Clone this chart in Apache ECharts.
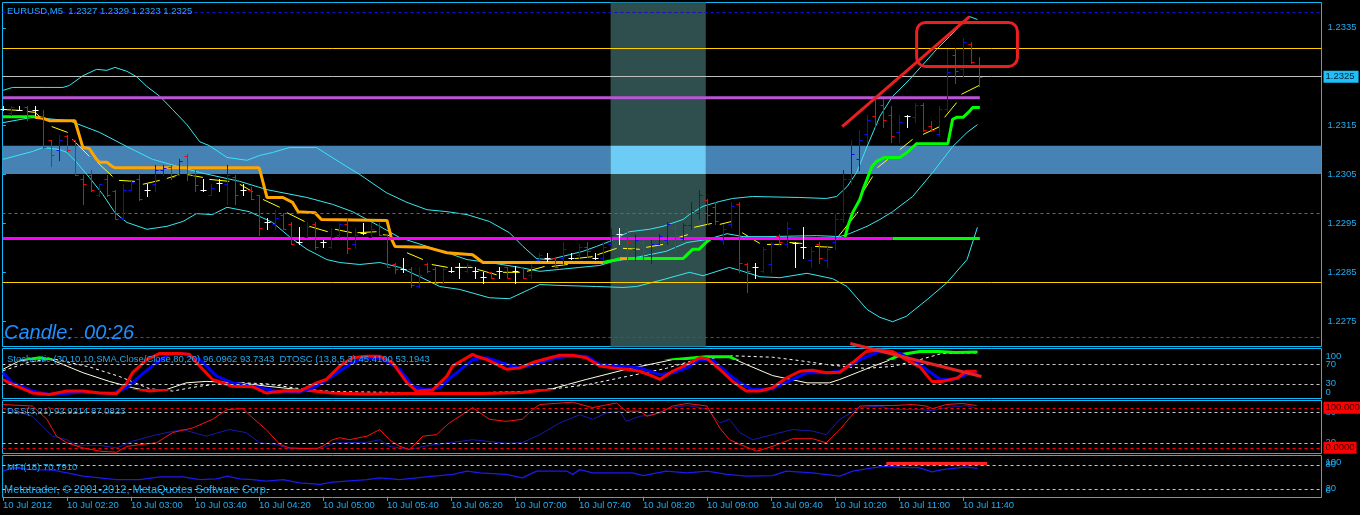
<!DOCTYPE html>
<html><head><meta charset="utf-8">
<script src="https://cdn.jsdelivr.net/npm/echarts@6/dist/echarts.min.js"></script>
<style>html,body{margin:0;padding:0;background:#000;}#c{width:1360px;height:515px;}</style>
</head><body><div id="c"></div>
<script>
// ---------- DATA ----------
const opens = [1.23183,1.23175,1.23181,1.23189,1.23181,1.23167,1.23120,1.23101,1.23128,1.23120,1.23040,1.23050,1.23009,1.23040,1.23017,1.22962,1.23019,1.23040,1.23019,1.23030,1.23060,1.23066,1.23050,1.23087,1.23050,1.23019,1.23009,1.23032,1.23030,1.23044,1.23019,1.23019,1.23009,1.22952,1.22948,1.22968,1.22948,1.22911,1.22923,1.22948,1.22911,1.22901,1.22927,1.22948,1.22907,1.22931,1.22923,1.22946,1.22927,1.22868,1.22856,1.22856,1.22821,1.22866,1.22856,1.22829,1.22852,1.22860,1.22852,1.22852,1.22841,1.22850,1.22852,1.22860,1.22852,1.22860,1.22845,1.22876,1.22880,1.22880,1.22880,1.22880,1.22886,1.22901,1.22880,1.22880,1.22907,1.22929,1.22938,1.22897,1.22909,1.22886,1.22907,1.22917,1.22942,1.22921,1.22946,1.22972,1.22997,1.22983,1.22917,1.22948,1.22989,1.22866,1.22860,1.22852,1.22866,1.22925,1.22907,1.22909,1.22901,1.22876,1.22907,1.22876,1.22913,1.22958,1.23040,1.23081,1.23132,1.23169,1.23193,1.23171,1.23136,1.23169,1.23167,1.23193,1.23150,1.23132,1.23183,1.23295,1.23265,1.23316,1.2327];
const highs = [1.23191,1.23191,1.23191,1.23191,1.23191,1.23181,1.23120,1.23130,1.23130,1.23120,1.23050,1.23060,1.23030,1.23050,1.23019,1.23030,1.23036,1.23050,1.23030,1.23070,1.23070,1.23070,1.23081,1.23091,1.23060,1.23040,1.23030,1.23040,1.23070,1.23050,1.23030,1.23025,1.23009,1.22962,1.22978,1.22972,1.22952,1.22942,1.22952,1.22952,1.22917,1.22940,1.22950,1.22960,1.22940,1.22950,1.22950,1.22950,1.22929,1.22870,1.22880,1.22860,1.22860,1.22870,1.22860,1.22860,1.22860,1.22870,1.22870,1.22860,1.22850,1.22850,1.22860,1.22860,1.22862,1.22860,1.22868,1.22890,1.22890,1.22880,1.22913,1.22890,1.22907,1.22913,1.22890,1.22911,1.22940,1.22940,1.22940,1.22929,1.22917,1.22917,1.22929,1.22952,1.22948,1.22950,1.22993,1.23019,1.22999,1.22993,1.22948,1.22993,1.22993,1.22870,1.22870,1.22901,1.22911,1.22929,1.22952,1.22913,1.22942,1.22901,1.22911,1.22901,1.22970,1.23060,1.23120,1.23140,1.23171,1.23205,1.23205,1.23191,1.23171,1.23171,1.23197,1.23197,1.23160,1.23191,1.23306,1.23308,1.23330,1.23320,1.2329];
const lows = [1.23181,1.23171,1.23181,1.23162,1.23171,1.23105,1.23068,1.23079,1.23099,1.23048,1.22989,1.23017,1.23007,1.23007,1.22958,1.22958,1.23019,1.22997,1.23007,1.23017,1.23050,1.23040,1.23050,1.23038,1.23017,1.23017,1.23009,1.23017,1.22989,1.22989,1.23009,1.22999,1.22927,1.22938,1.22938,1.22938,1.22907,1.22907,1.22923,1.22897,1.22901,1.22899,1.22923,1.22890,1.22899,1.22929,1.22923,1.22927,1.22860,1.22848,1.22850,1.22819,1.22819,1.22850,1.22829,1.22829,1.22850,1.22839,1.22850,1.22839,1.22829,1.22839,1.22839,1.22839,1.22829,1.22839,1.22839,1.22876,1.22874,1.22860,1.22868,1.22878,1.22880,1.22882,1.22878,1.22876,1.22901,1.22907,1.22870,1.22876,1.22876,1.22870,1.22907,1.22907,1.22890,1.22917,1.22938,1.22958,1.22948,1.22948,1.22907,1.22942,1.22850,1.22809,1.22839,1.22850,1.22850,1.22907,1.22901,1.22860,1.22880,1.22860,1.22870,1.22860,1.22897,1.22952,1.23030,1.23060,1.23115,1.23148,1.23148,1.23117,1.23117,1.23148,1.23158,1.23138,1.23138,1.23128,1.23179,1.23238,1.23250,1.23279,1.2323];
const closes = [1.23183,1.23187,1.23181,1.23167,1.23181,1.23107,1.23089,1.23120,1.23101,1.23050,1.23030,1.23019,1.23030,1.23009,1.22960,1.23019,1.23034,1.22999,1.23019,1.23060,1.23064,1.23044,1.23077,1.23050,1.23028,1.23019,1.23023,1.23032,1.23050,1.23009,1.23019,1.22999,1.22940,1.22952,1.22962,1.22938,1.22907,1.22911,1.22942,1.22901,1.22911,1.22923,1.22948,1.22899,1.22927,1.22931,1.22938,1.22927,1.22860,1.22856,1.22856,1.22825,1.22845,1.22852,1.22829,1.22856,1.22852,1.22860,1.22864,1.22852,1.22841,1.22839,1.22852,1.22839,1.22852,1.22839,1.22860,1.22886,1.22880,1.22860,1.22897,1.22880,1.22901,1.22893,1.22880,1.22901,1.22927,1.22929,1.22911,1.22917,1.22893,1.22907,1.22925,1.22948,1.22927,1.22946,1.22976,1.23009,1.22968,1.22954,1.22938,1.22985,1.22870,1.22852,1.22860,1.22897,1.22907,1.22911,1.22940,1.22909,1.22901,1.22893,1.22880,1.22897,1.22958,1.23040,1.23091,1.23120,1.23162,1.23156,1.23162,1.23128,1.23158,1.23169,1.23193,1.23140,1.23140,1.23183,1.23259,1.23261,1.23320,1.23281,1.2325];

const upperBand = [[0,1.23222],[1.2,1.23228],[5.5,1.23228],[7.5,1.23228],[8.3,1.23232],[10,1.23252],[11.7,1.23265],[13,1.23263],[14,1.23269],[15.5,1.23261],[16.7,1.23250],[18,1.23230],[19.6,1.23210],[21.2,1.23183],[23,1.23152],[24.6,1.23117],[25.8,1.23109],[28,1.23085],[30.5,1.23079],[32.1,1.23089],[33.7,1.23095],[35.8,1.23105],[39.2,1.23105],[42.1,1.23075],[44.6,1.23050],[47.9,1.23013],[50.5,1.22993],[53,1.22978],[55.5,1.22974],[58,1.22968],[60.8,1.22954],[63.3,1.22931],[65,1.22903],[66.7,1.22878],[68.3,1.22876],[70.8,1.22886],[72.5,1.22893],[74.2,1.22903],[75.8,1.22913],[78.3,1.22933],[80.8,1.22938],[82.5,1.22944],[85,1.22958],[85.8,1.22968],[87.5,1.22985],[89.6,1.22995],[91.2,1.23001],[93.7,1.23005],[99.6,1.23003],[102.9,1.23001],[104.2,1.23005],[105.5,1.23025],[106.7,1.23054],[108,1.23107],[109.6,1.23169],[111.2,1.23210],[113.3,1.23244],[116.7,1.23306],[118.3,1.23332],[120.8,1.23373],[121.8,1.23367]];
const middleBand = [[0,1.23156],[3.7,1.23167],[8.3,1.23160],[12.1,1.23136],[15.5,1.23107],[18.7,1.23081],[24.6,1.23054],[29.6,1.23036],[33,1.23019],[38,1.23003],[41.2,1.22989],[43.7,1.22974],[47.1,1.22944],[49.6,1.22921],[53,1.22903],[55.5,1.22890],[58,1.22876],[60.8,1.22870],[64.6,1.22860],[67.1,1.22852],[69.6,1.22856],[72.1,1.22860],[74.6,1.22864],[76.2,1.22872],[79.6,1.22882],[82.9,1.22893],[85.5,1.22911],[88,1.22917],[90.5,1.22929],[92.5,1.22923],[95.5,1.22923],[101.7,1.22925],[104.6,1.22923],[105.8,1.22929],[108,1.22944],[109.6,1.22958],[111.2,1.22974],[113.7,1.23005],[116.2,1.23054],[118.7,1.23107],[120.5,1.23136],[121.8,1.23152]];
const lowerBand = [[0,1.23081],[3.7,1.23097],[5,1.23105],[7.1,1.23101],[8,1.23095],[9.2,1.23075],[10.8,1.23044],[12.5,1.23009],[14,1.22972],[15.5,1.22952],[18,1.22938],[20.5,1.22944],[22.5,1.22954],[24.2,1.22970],[26.2,1.22968],[28,1.22983],[30.8,1.22974],[33.7,1.22952],[35.8,1.22923],[38,1.22897],[40.5,1.22876],[42.1,1.22870],[44.6,1.22866],[47.1,1.22870],[49.6,1.22860],[52.1,1.22841],[54.6,1.22821],[57.1,1.22815],[60.8,1.22798],[63.3,1.22796],[65.8,1.22815],[67.1,1.22825],[69.9,1.22823],[74.2,1.22821],[77.5,1.22819],[79.2,1.22821],[82.5,1.22835],[85.8,1.22850],[87.5,1.22843],[90.8,1.22860],[92.5,1.22852],[94.6,1.22841],[97.1,1.22839],[100.5,1.22848],[103.7,1.22837],[105.5,1.22821],[108,1.22774],[109.6,1.22758],[111.2,1.22749],[112.9,1.22760],[115.5,1.22794],[118,1.22829],[120.5,1.22876],[121.8,1.22942]];

const trailGreen1 = [[0,1.23168],[4,1.23168]];
const trailOrange1 = [[4,1.23167],[5,1.23165],[5.8,1.23160],[9,1.23160],[9.2,1.23156],[10,1.23105],[10.8,1.23103],[11.7,1.23081],[12.1,1.23075],[13,1.23075],[13.7,1.23066],[14,1.23064],[32,1.23064],[32.2,1.23054],[33,1.23003],[35,1.23003],[36.2,1.22993],[36.9,1.22974],[39,1.22972],[39.8,1.22958],[48,1.22956],[48.6,1.22917],[49,1.22903],[53,1.22901],[55.5,1.22890],[58.7,1.22886],[60,1.22870],[75,1.22870]];
const trailGreen2 = [[75,1.22870],[76.2,1.22874],[77.1,1.22878]];
const trailOrange2 = [[77.1,1.22878],[78.1,1.22878]];
const trailGreen3 = [[78.1,1.22878],[85,1.22878],[86.2,1.22897],[87,1.22897],[88,1.22913],[88.5,1.22919],[105.2,1.22919],[105.6,1.22944],[106.2,1.22972],[107.1,1.22999],[107.5,1.23019],[108,1.23040],[108.6,1.23066],[109.2,1.23077],[110.2,1.23085],[112.1,1.23085],[113,1.23095],[114.2,1.23113],[118.1,1.23113],[118.7,1.23163],[119.2,1.23167],[120,1.23167],[120.8,1.23179],[121.2,1.23187],[122.1,1.23187]];

const yellowSegs = [[0,1.23183,2.1,1.23181],[3,1.23179,4,1.23177],[4,1.23177,5,1.23163],[6.1,1.23148,8.1,1.23136],[8.7,1.23122,10.8,1.23087],[11.8,1.23075,13.7,1.23046],[14.5,1.23038,16.5,1.23036],[17.5,1.23030,19.6,1.23038],[20.5,1.23042,22.1,1.23050],[23,1.23050,25,1.23044],[25.8,1.23040,28.3,1.23036],[29.6,1.23030,31.2,1.23015],[32.5,1.22999,34.6,1.22983],[35.5,1.22972,37.7,1.22954],[38.3,1.22944,40.6,1.22933],[41.5,1.22938,43.6,1.22931],[44.3,1.22931,46.7,1.22933],[47.5,1.22927,48.3,1.22925],[50.5,1.22890,52.5,1.22876],[53.6,1.22866,55.6,1.22860],[56.5,1.22860,58.7,1.22860],[59.3,1.22856,61.7,1.22845],[62.5,1.22850,64.6,1.22850],[65.5,1.22852,67.7,1.22862],[68.6,1.22862,70.6,1.22866],[71.5,1.22878,73.7,1.22882],[74.3,1.22886,76.7,1.22899],[77.5,1.22899,79.6,1.22897],[80.4,1.22901,82.5,1.22907],[83.6,1.22917,85.6,1.22927],[86.4,1.22942,88.6,1.22950],[89.6,1.22948,91.1,1.22954],[92.4,1.22931,94.6,1.22909],[95.5,1.22907,97.3,1.22907],[98.3,1.22911,99.9,1.22909],[101.5,1.22903,103.7,1.22901],[104.4,1.22923,106.9,1.22974],[107.5,1.23015,108.7,1.23046],[109.3,1.23064,110.6,1.23081],[112.1,1.23101,113.7,1.23122],[115,1.23132,117.1,1.23148],[117.7,1.23167,119.2,1.23197],[119.8,1.23214,122,1.23232]];

// horizontal objects (prices)
const levelBlueDash = 1.23381, levelGoldTop = 1.23309, bidPrice = 1.2325, levelMagentaDash = 1.22970, levelGoldLow = 1.22829, levelRedDash = 1.22718;
const purpleLine = [[0,1.23207],[122.1,1.23207]];
const magentaLine = [[0,1.22919],[111.2,1.22919]];
const greenLevel = [[111.2,1.22919],[122.1,1.22919]];
const zoneBand = [1.23051, 1.23109];
const sessionBand = [75.95, 87.85];
const redTrend = [[104.9,1.23148],[120.8,1.23373]];
const redBox = [[114.2,1.23361,126.8,1.23271]];
const priceTicks = [1.2275,1.2285,1.2295,1.2305,1.2315,1.2325,1.2335];

// Stochastic / DTOSC panel
const dtMain = [[0,39],[1.2,29],[3.7,11],[5.8,8],[8,15],[10,15],[12.1,11],[14.2,10],[15.5,32],[16.2,53],[18,80],[19.6,93],[22.1,93],[23.3,91],[24.6,67],[26.2,39],[28.7,25],[31.2,24],[32.9,11],[35,15],[37.1,15],[39.2,32],[40.4,39],[42.1,67],[43.7,84],[45.4,87],[47.1,87],[48.7,74],[50.5,32],[51.7,15],[53.7,17],[55.5,46],[56.2,67],[58.7,91],[59.2,87],[60.5,80],[63,60],[64.6,63],[66.2,74],[67.9,82],[69.6,89],[71.2,89],[72.9,84],[74.6,67],[76.2,63],[77.9,60],[79.6,56],[81.2,46],[82.1,39],[83.7,56],[85.5,70],[87.1,84],[88,82],[89.6,60],[91.2,35],[92.9,15],[94.6,15],[96.2,22],[97.9,42],[99.6,56],[101.2,58],[102.9,53],[104.6,54],[106.2,74],[107.9,97],[109.6,100],[111.2,97],[112.9,80],[114.6,65],[116.1,35],[117.4,35],[119.3,42],[120.4,56],[121.7,56]];
const dtSignal = [[0,53],[1.2,32],[3.7,15],[5.8,8],[10,13],[13.7,10],[15.5,22],[17.1,46],[19.2,74],[20.8,91],[22.5,93],[24.6,80],[26.7,46],[28.7,32],[31.2,25],[34.2,15],[37.1,13],[39.2,25],[41.2,46],[43.7,74],[45.4,84],[47.4,82],[49.6,60],[51.2,25],[52.9,18],[54.6,22],[56.2,46],[58.7,80],[60.5,84],[63,70],[64.6,63],[67.1,74],[68.7,82],[70.5,87],[73,87],[74.6,70],[77.1,67],[79.6,63],[82.1,49],[83.7,53],[85.5,63],[87.1,80],[88.7,79],[90.5,53],[92.1,32],[93.7,18],[96.2,20],[98.7,39],[100.5,53],[103,53],[104.6,56],[107.1,80],[109.6,97],[112.1,93],[114.2,74],[117.1,40],[118.7,39],[120.4,49],[121.8,53]];
const slowMain = [[0,60],[2,77],[4.6,84],[6.2,79],[10,53],[13.3,35],[16.2,22],[18.3,15],[20.4,18],[22.9,32],[25.4,35],[29.6,32],[33,25],[37.1,18],[41.2,11],[45.4,9],[50.5,10],[55.5,10],[60,10],[65,12],[68.7,20],[72.9,39],[77.9,60],[83.7,80],[87.9,86],[90.8,86],[92.9,70],[96.2,47],[100.5,32],[103.3,32],[104.6,39],[108.7,66],[110.5,77],[112.1,90],[114.6,97],[117,97],[119,95],[121.8,96]];
const slowSignal = [[0,57],[3.3,75],[6.2,82],[10.8,65],[14.6,45],[18.3,20],[21.2,15],[24.6,25],[28.7,33],[32.9,30],[37.1,20],[41.2,14],[49.6,12],[55.5,10],[65,14],[69,20],[73,28],[77.9,45],[82.9,62],[86.2,78],[91.2,88],[96.2,85],[99.6,78],[102.9,70],[106.2,64],[107.9,62],[111.2,66],[114.6,80],[117.4,93],[121.7,94]];
const stochLevels = [70, 30];
const stochScale = [0, 100];
const stochTrend = [[105.9,113.5],[122.3,45]];

// DSS panel
const dssRed = [[0,95],[3.7,92],[5.5,66],[6.7,33],[8,20],[10,10],[12.1,3.5],[14.2,1.6],[15.5,13],[17.5,17],[19.2,20],[21.2,40],[23.7,49],[26.2,66],[28,85],[30,87],[31.2,69],[32.9,46],[34.6,17],[35.8,10],[39.2,8],[39.9,13],[41.2,26],[42.1,30],[43.3,26],[45.5,33],[47.1,46],[48.3,26],[49.6,13],[50.8,7],[52.5,33],[54.2,36],[55.8,59],[57.1,72],[58.7,89],[60.8,66],[62.9,62],[64.9,66],[66.2,85],[67.1,95],[71.2,99.6],[73.7,89],[76.7,98],[77.9,82],[79.6,82],[80.5,72],[82.1,79],[83.7,92],[85.5,97],[88,92],[89.6,49],[90.8,26],[92.1,17],[94.2,3.5],[96.2,13],[98.7,28],[101.2,28],[102.9,20],[104.6,46],[107.1,92],[108.7,93],[111.2,93],[113.7,95],[115.4,92],[116.2,87],[117.9,95],[119.9,97],[121.7,93]];
const dssBlue = [[0,88],[3.7,72],[6.2,33],[8,26],[9.2,15],[12.1,15],[14.2,10],[16.2,23],[19.2,36],[22.5,46],[25.4,33],[28.3,46],[30.4,40],[32.1,20],[34.2,17],[35.8,8],[39.9,10],[41.7,20],[45.5,21],[47.1,26],[48.3,13],[50.8,7],[53.3,15],[55.8,20],[58.7,26],[62.9,19],[64.9,20],[67.1,36],[69.6,59],[72.1,75],[73.7,66],[75.5,79],[77.1,82],[77.9,62],[79.6,72],[81.2,75],[83.7,89],[85.5,93],[87.1,89],[88,85],[89.6,59],[90.8,66],[92.1,40],[93.7,26],[96.2,36],[98.7,46],[101.2,43],[102.9,36],[104.6,66],[107.1,89],[109.6,92],[111.2,85],[114.6,85],[116.2,83],[117.9,89],[120.4,93],[121.8,87]];
const dssLevels = [80, 20];
const dssRedLevels = [88.6, 10.2];

// MFI panel
const mfi = [[0,64],[1.2,72.5],[3.7,68],[6.2,66.5],[8,60],[10,51.5],[12.1,47.5],[14.2,43],[17.1,43],[19.6,50],[22.5,50],[24.6,43],[26.7,45],[28,51.5],[29.6,45],[31.2,43],[32.9,39],[35,43],[37.1,35],[39.6,31],[41.2,36.5],[45.5,43],[47.1,47.5],[49.6,43],[51.7,47.5],[53.7,51.5],[54.6,53],[56.2,56],[58,64],[59.6,60],[62.9,56],[64.9,47.5],[66.7,64],[70.5,64],[71.2,56],[72.1,68],[73.7,60],[78.7,60],[80,53],[82.9,64],[85.5,60],[88,64],[90.5,56],[92.9,51.5],[96.2,53],[97.9,64],[101.2,60],[104.6,51.5],[106.2,64],[108.7,72.5],[110.4,76.5],[112.1,74],[114.6,72.5],[116.1,62.5],[117.4,68],[120.4,75],[121.8,70.8]];
const mfiLevels = [80, 20];
const mfiRedLine = [[110.4,83],[123,83]];

const tickIdx = [0,8,16,24,32,40,48,56,64,72,80,88,96,104,112,120];
const timeLabels = ['10 Jul 2012','10 Jul 02:20','10 Jul 03:00','10 Jul 03:40','10 Jul 04:20','10 Jul 05:00','10 Jul 05:40','10 Jul 06:20','10 Jul 07:00','10 Jul 07:40','10 Jul 08:20','10 Jul 09:00','10 Jul 09:40','10 Jul 10:20','10 Jul 11:00','10 Jul 11:40'];

// ---------- CHART ----------
const FRAME = '#10B8F4', TXT = '#22AAEE', FF = 'Liberation Sans', FS = 9.5;
const CYAN = '#38E8F0';
const chart = echarts.init(document.getElementById('c'));

const grids = [
  {left:2.5, top:2.5, width:1319, height:344},
  {left:2.5, top:348.5, width:1319, height:50},
  {left:2.5, top:400.5, width:1319, height:53},
  {left:2.5, top:455.5, width:1319, height:42}
].map(g => Object.assign(g, {show:true, borderColor:FRAME, borderWidth:1, backgroundColor:'transparent'}));

const xAxes = [0,1,2,3].map(gi => ({
  type:'value', gridIndex:gi, min:-0.05, max:164.8, show: gi===3,
  axisLine:{show:false}, splitLine:{show:false},
  axisTick:{show:true, customValues:tickIdx, length:4, lineStyle:{color:FRAME}},
  axisLabel:{customValues:tickIdx, formatter:v => timeLabels[tickIdx.indexOf(v)] || '', align:'left', margin:3, color:TXT, fontSize:FS, fontFamily:FF}
}));

const yAxes = [
  {type:'value', gridIndex:0, position:'right', min:1.226983, max:1.234017, splitLine:{show:false}, axisLine:{show:false},
    axisTick:{show:true, customValues:priceTicks, length:3, lineStyle:{color:FRAME}},
    axisLabel:{customValues:priceTicks, formatter:v=>v.toFixed(4), margin:6, color:TXT, fontSize:FS, fontFamily:FF}},
  {type:'value', gridIndex:1, position:'right', min:-0.4, max:103.1, show:false},
  {type:'value', gridIndex:2, position:'right', min:-1, max:102.9, show:false},
  {type:'value', gridIndex:3, position:'right', min:-1.75, max:103.25, show:false}
];

function ln(data, color, width, gi, extra){
  return Object.assign({type:'line', data:data, xAxisIndex:gi, yAxisIndex:gi, symbol:'none', silent:true,
    lineStyle:{color:color, width:width}, z:3, animation:false}, extra||{});
}
const dashW = {color:'#C8C8C8', width:1, type:[3,3]};
const lblBase = {show:true, position:'end', distance:4, color:TXT, fontSize:FS, fontFamily:FF};
// level lines (dashed) with their scale labels, plus edge labels with an invisible line
function levelLines(gi, vals, edgeVals, edgeShift){
  const d = vals.map(v => ({yAxis:v, lineStyle:dashW, label:Object.assign({formatter:String(v)}, lblBase)}));
  edgeVals.forEach((v,k) => d.push({yAxis:v, lineStyle:{color:'rgba(0,0,0,0)', width:1, type:'solid'},
    label:Object.assign({formatter:String(v), offset:[0, edgeShift[k]]}, lblBase)}));
  return {type:'line', data:[], xAxisIndex:gi, yAxisIndex:gi, silent:true, z:1,
    markLine:{silent:true, symbol:['none','none'], animation:false, precision:4, data:d}};
}

const series = [];
// background: bands and horizontal objects
series.push({type:'line', data:[], xAxisIndex:0, yAxisIndex:0, silent:true, z:1,
  markArea:{silent:true, animation:false, data:[
    [{yAxis:zoneBand[0], itemStyle:{color:'#4682B4'}},{yAxis:zoneBand[1]}],
    [{xAxis:sessionBand[0], itemStyle:{color:'#2F4F4F'}},{xAxis:sessionBand[1]}],
    [{coord:[sessionBand[0], zoneBand[1]], itemStyle:{color:'#6CCCF6'}},{coord:[sessionBand[1], zoneBand[0]]}]
  ]},
  markLine:{silent:true, symbol:['none','none'], animation:false, precision:6, label:{show:false}, data:[
    {yAxis:levelBlueDash, lineStyle:{color:'#1010C8', width:1, type:[3,3]}},
    {yAxis:levelGoldTop, lineStyle:{color:'#FFD000', width:1, type:'solid'}},
    {yAxis:levelMagentaDash, lineStyle:{color:'#FF00FF', width:1, type:[3,3]}},
    {yAxis:levelGoldLow, lineStyle:{color:'#FFD000', width:1, type:'solid'}},
    {yAxis:levelRedDash, lineStyle:{color:'#E01818', width:1, type:[3,3]}},
    {yAxis:bidPrice, lineStyle:{color:'#C0C0C0', width:1, type:'solid'},
      label:{show:true, position:'end', distance:2, formatter:bidPrice.toFixed(4), backgroundColor:'#1EC0F6', color:'#00203A', padding:[1,4,1,2], fontSize:FS, fontFamily:FF}}
  ]}});
series.push(ln(upperBand, CYAN, 1, 0));
series.push(ln(middleBand, CYAN, 1, 0));
series.push(ln(lowerBand, CYAN, 1, 0));
series.push({type:'custom', xAxisIndex:0, yAxisIndex:0, data:yellowSegs, silent:true, z:3, encode:{x:[0,2], y:[1,3]},
  renderItem:(p, api) => { const a = api.coord([api.value(0), api.value(1)]), b = api.coord([api.value(2), api.value(3)]);
    return {type:'line', shape:{x1:a[0], y1:a[1], x2:b[0], y2:b[1]}, style:{stroke:'#FFFF00', lineWidth:1}}; }});
series.push(ln(trailOrange1, '#FFA500', 3, 0));
series.push(ln(trailOrange2, '#FFA500', 3, 0));
series.push(ln(trailGreen1, '#00FF00', 3, 0));
series.push(ln(trailGreen2, '#00FF00', 3, 0));
series.push(ln(trailGreen3, '#00FF00', 3, 0));
series.push(ln(purpleLine, '#BA55D3', 3, 0, {z:4}));
series.push(ln(magentaLine, '#FF00FF', 3, 0, {z:4}));
series.push(ln(greenLevel, '#00FF00', 3, 0, {z:4}));
// OHLC bars
series.push({type:'custom', xAxisIndex:0, yAxisIndex:0, silent:true, z:5,
  data: opens.map((o,i)=>[i, o, highs[i], lows[i], closes[i]]), encode:{x:0, y:[1,2,3,4]},
  renderItem:(p, api) => {
    const i = api.value(0), o = api.value(1), h = api.value(2), l = api.value(3), c = api.value(4);
    const ph = api.coord([i,h]), pl = api.coord([i,l]), po = api.coord([i,o]), pc = api.coord([i,c]);
    const x = Math.round(ph[0]) + 0.5;
    const col = c > o ? '#0A0AFF' : (c < o ? '#FF0000' : '#FFFFFF');
    const yo = Math.round(po[1]) + 0.5, yc = Math.round(pc[1]) + 0.5;
    const st = {stroke:col, lineWidth:1};
    return {type:'group', children:[
      {type:'line', shape:{x1:x, y1:Math.round(ph[1]), x2:x, y2:Math.round(pl[1])+1}, style:st},
      {type:'line', shape:{x1:x-3, y1:yo, x2:x, y2:yo}, style:st},
      {type:'line', shape:{x1:x, y1:yc, x2:x+3, y2:yc}, style:st}
    ]};
  }});
// red annotations
series.push(ln(redTrend, '#E82020', 3, 0, {z:6}));
series.push({type:'custom', xAxisIndex:0, yAxisIndex:0, silent:true, z:6, data:redBox, encode:{x:[0,2], y:[1,3]}, clip:false,
  renderItem:(p, api) => { const a = api.coord([api.value(0), api.value(1)]), b = api.coord([api.value(2), api.value(3)]);
    return {type:'rect', shape:{x:a[0], y:a[1], width:b[0]-a[0], height:b[1]-a[1], r:9}, style:{fill:'none', stroke:'#E82020', lineWidth:3}}; }});

// stochastic panel
series.push(levelLines(1, stochLevels, stochScale, [-6, 6]));
series.push(ln(slowSignal, '#FFFFFF', 1, 1, {lineStyle:{color:'#FFFFFF', width:1, type:[3,3]}}));
series.push(ln(slowMain, '#FFFFE0', 1, 1));
const slowThickIdx = series.length;
series.push(ln(slowMain, null, 3, 1, {z:4, lineStyle:{width:3}}));
series.push(ln(dtSignal, '#0000FF', 3, 1, {z:4}));
series.push(ln(dtMain, '#FF0000', 3, 1, {z:4}));
series.push(ln(stochTrend, '#E82020', 3, 1, {z:6, clip:false}));

// DSS panel
series.push(levelLines(2, dssLevels, [0, 100], [-6, 5]));
series.push({type:'line', data:[], xAxisIndex:2, yAxisIndex:2, silent:true, z:2,
  markLine:{silent:true, symbol:['none','none'], animation:false, precision:4,
    data: dssRedLevels.map((v,k) => ({yAxis:v, lineStyle:{color:'#FF0000', width:1, type:[3,3]},
      label:{show:true, position:'end', distance:2, formatter: k===0 ? '100.0000' : '0.0000', backgroundColor:'#FF0000', color:'#300000', padding:[1,2,1,2], fontSize:FS, fontFamily:FF}}))}});
series.push(ln(dssBlue, '#1818B0', 1, 2));
series.push(ln(dssRed, '#FF1010', 1, 2));

// MFI panel
series.push(levelLines(3, mfiLevels, [0, 100], [-6, 6]));
series.push(ln(mfi, '#1A1AF0', 1.3, 3));
series.push(ln(mfiRedLine, '#FF2020', 3, 3, {z:4}));

const txt = (x, y, s, font, fill) => ({type:'text', x:x, y:y, silent:true, z:100,
  style:{text:s, font:font, fill:fill||TXT, verticalAlign:'middle', align:'left'}});

chart.setOption({
  backgroundColor:'#000000',
  animation:false,
  grid: grids, xAxis: xAxes, yAxis: yAxes, series: series,
  visualMap:[{type:'piecewise', show:false, seriesIndex:slowThickIdx, dimension:1,
    pieces:[{lt:20, color:'#FF0000'},{gte:20, lte:80, color:'rgba(0,0,0,0)'},{gt:80, color:'#00FF00'}]}],
  graphic:[
    txt(7, 11, 'EURUSD,M5  1.2327 1.2329 1.2323 1.2325', FS+'px "'+FF+'"'),
    txt(4, 333, 'Candle:  00:26', 'italic 20px "'+FF+'"', '#1E90FF'),
    txt(7, 359, 'Stochastic (30,10,10,SMA,Close/Close,80,20) 96.0962 93.7343  DTOSC (13,8,5,3) 45.4100 53.1943', FS+'px "'+FF+'"'),
    txt(7, 411, 'DSS(3,21) 92.9214 87.0823', FS+'px "'+FF+'"'),
    txt(7, 467, 'MFI(18) 70.7910', FS+'px "'+FF+'"'),
    txt(4, 490, 'Metatrader, \u00A9 2001-2012, MetaQuotes Software Corp.', '11px "'+FF+'"')
  ]
});
</script></body></html>
